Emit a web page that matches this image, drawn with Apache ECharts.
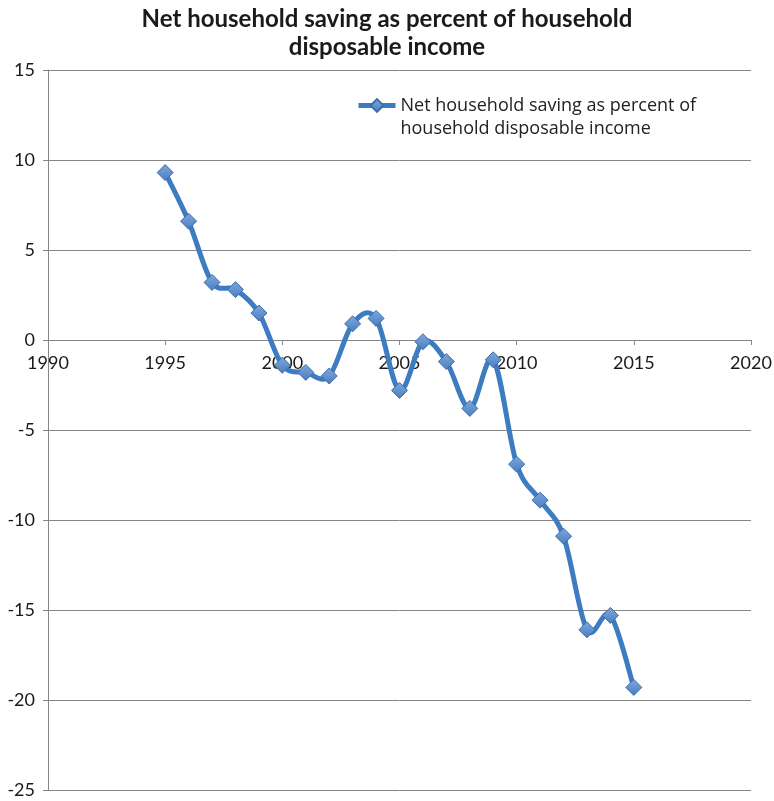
<!DOCTYPE html>
<html>
<head>
<meta charset="utf-8">
<script src="https://cdn.jsdelivr.net/npm/echarts@6/dist/echarts.min.js"></script>
<style>
  html, body { margin: 0; padding: 0; background: #ffffff; }
  #chart { width: 774px; height: 801px; }
</style>
</head>
<body>
<div id="chart"></div>
<script>
// Net household saving, % of household disposable income, by year
const years = [1995, 1996, 1997, 1998, 1999, 2000, 2001, 2002, 2003, 2004,
               2005, 2006, 2007, 2008, 2009, 2010, 2011, 2012, 2013, 2014, 2015];
const savingPct = [9.3, 6.6, 3.2, 2.8, 1.5, -1.4, -1.8, -2.0, 0.9, 1.2,
                   -2.8, -0.1, -1.2, -3.8, -1.1, -6.9, -8.9, -10.9, -16.1, -15.3, -19.3];

// Axis ranges and tick steps
const xRange = [1990, 2020];
const xStep = 5;
const yRange = [-25, 15];
const yStep = 5;

const seriesName = 'Net household saving as percent of\nhousehold disposable income';
const titleText = 'Net household saving as percent of household\ndisposable income';

const TITLE_FONT = 'Lato, "Open Sans", sans-serif';
const LABEL_FONT = 'Lato, "Open Sans", sans-serif';
const LEGEND_FONT = '"Open Sans", Lato, sans-serif';
const AXIS_GRAY = '#868686';
const LINE_BLUE = '#3D7CC0';
const LINE_WIDTH = 5;

// Plot box inside the 774x801 canvas
const GRID = { left: 48, right: 23, top: 70, bottom: 11 };
const plotHeight = 801 - GRID.top - GRID.bottom;
// The year axis crosses the value axis at 0: shift it up from the bottom edge
const xAxisOffset = -plotHeight * (0 - yRange[0]) / (yRange[1] - yRange[0]);

const points = years.map((y, i) => [y, savingPct[i]]);

// Smooth curve through all points: cubic Bezier segments whose control
// points follow the neighbouring points (Catmull-Rom, tension 1/6).
function renderCurve(params, api) {
  if (params.dataIndex !== 0) return null;
  const px = points.map(p => api.coord(p));
  const n = px.length;
  let d = 'M' + px[0][0] + ',' + px[0][1];
  for (let i = 0; i < n - 1; i++) {
    const p0 = px[i - 1] || px[i];
    const p1 = px[i];
    const p2 = px[i + 1];
    const p3 = px[i + 2] || px[i + 1];
    const c1x = p1[0] + (p2[0] - p0[0]) / 6;
    const c1y = p1[1] + (p2[1] - p0[1]) / 6;
    const c2x = p2[0] - (p3[0] - p1[0]) / 6;
    const c2y = p2[1] - (p3[1] - p1[1]) / 6;
    d += ' C' + c1x + ',' + c1y + ' ' + c2x + ',' + c2y + ' ' + p2[0] + ',' + p2[1];
  }
  return {
    type: 'path',
    shape: { pathData: d },
    style: { stroke: LINE_BLUE, lineWidth: LINE_WIDTH, fill: null, lineJoin: 'round', lineCap: 'round' }
  };
}

const chart = echarts.init(document.getElementById('chart'), null, { renderer: 'canvas' });

chart.setOption({
  backgroundColor: '#ffffff',
  animation: false,
  title: {
    text: titleText,
    left: 'center',
    top: 0,
    textStyle: {
      fontFamily: TITLE_FONT,
      fontWeight: 'bold',
      fontSize: 24,
      lineHeight: 28,
      color: '#1a1a1a'
    }
  },
  legend: {
    left: 356,
    top: 71,
    padding: 0,
    itemWidth: 37,
    itemHeight: 16,
    itemGap: 0,
    formatter: name => '\n' + name,
    lineStyle: { color: LINE_BLUE, width: LINE_WIDTH, opacity: 1 },
    textStyle: {
      fontFamily: LEGEND_FONT,
      fontSize: 18,
      lineHeight: 23,
      color: '#222222'
    },
    data: [seriesName]
  },
  grid: {
    left: GRID.left,
    right: GRID.right,
    top: GRID.top,
    bottom: GRID.bottom,
    containLabel: false,
    outerBoundsMode: 'none'
  },
  xAxis: {
    type: 'value',
    position: 'bottom',
    offset: xAxisOffset,
    min: xRange[0],
    max: xRange[1],
    interval: xStep,
    axisLine: { show: true, onZero: false, lineStyle: { color: AXIS_GRAY, width: 1 } },
    axisTick: { show: true, length: 5, lineStyle: { color: AXIS_GRAY } },
    splitLine: { show: false },
    axisLabel: {
      show: true,
      fontFamily: LABEL_FONT,
      fontSize: 18,
      color: '#1a1a1a',
      margin: 14,
      hideOverlap: false,
      formatter: v => String(v)
    },
    z: 1
  },
  yAxis: {
    type: 'value',
    min: yRange[0],
    max: yRange[1],
    interval: yStep,
    axisLine: { show: true, onZero: false, lineStyle: { color: AXIS_GRAY, width: 1 } },
    axisTick: { show: true, length: 5, lineStyle: { color: AXIS_GRAY } },
    splitLine: { show: true, lineStyle: { color: AXIS_GRAY, width: 1 } },
    axisLabel: {
      fontFamily: LABEL_FONT,
      fontSize: 18,
      color: '#1a1a1a',
      margin: 13
    }
  },
  series: [{
    name: seriesName,
    type: 'line',
    data: points,
    symbol: 'diamond',
    symbolSize: 16,
    lineStyle: { color: LINE_BLUE, width: LINE_WIDTH, opacity: 0 },
    itemStyle: {
      color: new echarts.graphic.LinearGradient(0, 0, 0, 1, [
        { offset: 0, color: '#7EA8DD' },
        { offset: 1, color: '#4A7EBF' }
      ]),
      borderColor: '#3A6EAD',
      borderWidth: 1
    },
    z: 3
  }, {
    name: seriesName,
    type: 'custom',
    data: points,
    renderItem: renderCurve,
    silent: true,
    z: 2
  }]
});
</script>
</body>
</html>
